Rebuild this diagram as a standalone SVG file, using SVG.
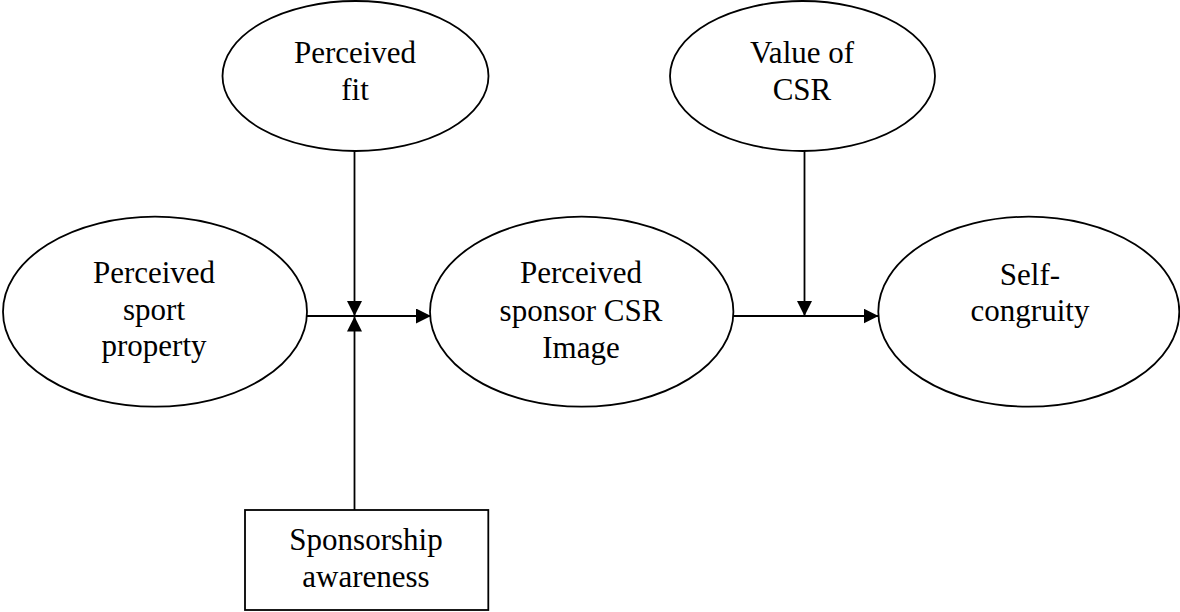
<svg xmlns="http://www.w3.org/2000/svg" width="1180" height="612" viewBox="0 0 1180 612">
<style>
.n{fill:#fff;stroke:#000;stroke-width:1.8}
.t{font-family:"Liberation Serif","Times New Roman",serif;font-size:31px;fill:#000;text-anchor:middle}
.c{fill:none;stroke:#000;stroke-width:1.8}
</style>
<defs>
<marker id="ah" markerUnits="userSpaceOnUse" markerWidth="15" markerHeight="15" refX="15" refY="7.5" orient="auto">
<path d="M0,0 L15,7.5 L0,15 z" fill="#000"/>
</marker>
</defs>
<rect width="1180" height="612" fill="#fff"/>
<g id="connectors">
<line class="c" x1="307" y1="316" x2="431" y2="316" marker-end="url(#ah)"/>
<line class="c" x1="354.5" y1="151" x2="354.5" y2="316" marker-end="url(#ah)"/>
<line class="c" x1="354.5" y1="510" x2="354.5" y2="316.5" marker-end="url(#ah)"/>
<line class="c" x1="733" y1="316" x2="878.5" y2="316" marker-end="url(#ah)"/>
<line class="c" x1="804.5" y1="151" x2="804.5" y2="316" marker-end="url(#ah)"/>
</g>
<g id="perceived-fit">
<ellipse class="n" cx="355.5" cy="76" rx="133" ry="75"/>
<text class="t" x="355" y="63">Perceived</text>
<text class="t" x="355" y="100">fit</text>
</g>
<g id="value-of-csr">
<ellipse class="n" cx="802.5" cy="76" rx="132.5" ry="75"/>
<text class="t" x="802" y="63">Value of</text>
<text class="t" x="802" y="100">CSR</text>
</g>
<g id="perceived-sport-property">
<ellipse class="n" cx="155" cy="311.7" rx="152" ry="95"/>
<text class="t" x="154" y="283">Perceived</text>
<text class="t" x="154" y="320">sport</text>
<text class="t" x="154" y="356">property</text>
</g>
<g id="perceived-sponsor-csr-image">
<ellipse class="n" cx="581.7" cy="311.7" rx="151.7" ry="95"/>
<text class="t" x="581" y="283">Perceived</text>
<text class="t" x="581" y="321">sponsor CSR</text>
<text class="t" x="581" y="358">Image</text>
</g>
<g id="self-congruity">
<ellipse class="n" cx="1028.8" cy="311.7" rx="150.5" ry="95"/>
<text class="t" x="1030" y="285">Self-</text>
<text class="t" x="1030" y="321">congruity</text>
</g>
<g id="sponsorship-awareness">
<rect class="n" x="245" y="510" width="243.3" height="100"/>
<text class="t" x="366" y="550">Sponsorship</text>
<text class="t" x="366" y="587">awareness</text>
</g>
</svg>
